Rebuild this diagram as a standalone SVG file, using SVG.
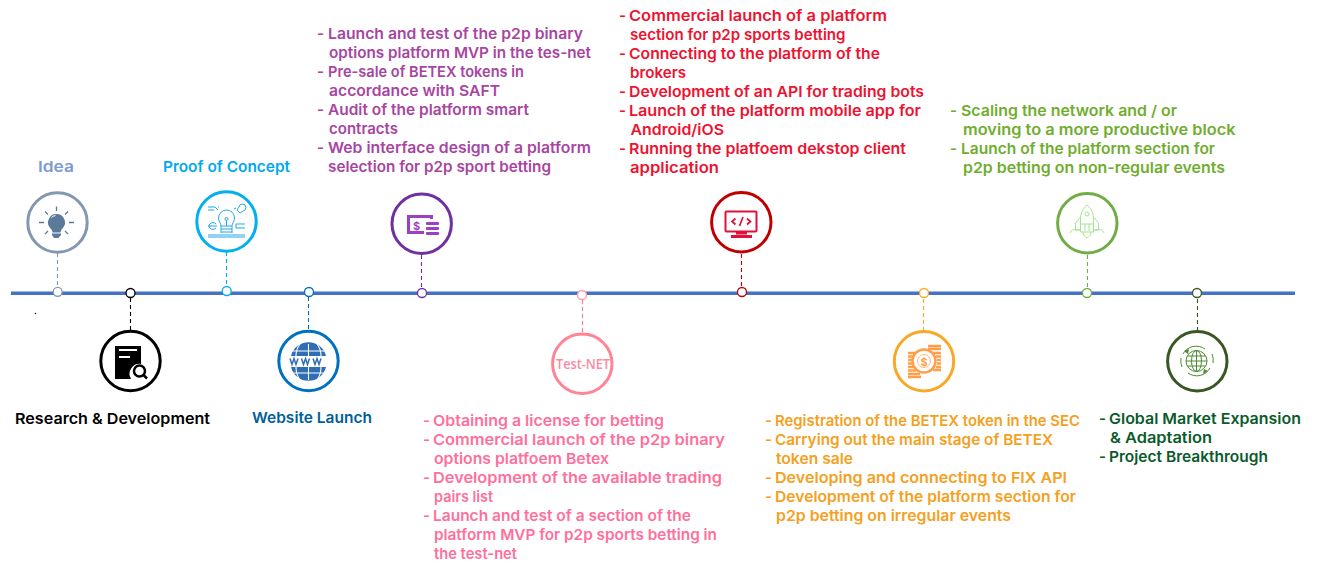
<svg xmlns="http://www.w3.org/2000/svg" width="1317" height="569" viewBox="0 0 1317 569">
<style>
text{font-family:"Inter","Liberation Sans",sans-serif;font-weight:600;font-size:15px}
.ring{fill:#fff;stroke-width:3}
.dot{fill:#fff;stroke-width:1.3}
.dash{fill:none;stroke-width:1.1;stroke-dasharray:4 3}
.thin{fill:none;stroke-width:1}
</style>
<rect width="1317" height="569" fill="#fff"/>
<g id="connectors">
<line x1="11" y1="293.3" x2="1295" y2="293.3" stroke="#4472C4" stroke-width="3.4"/>
<line class="dash" x1="57.5" y1="253" x2="57.5" y2="287" stroke="#8497B0"/>
<line class="dash" x1="130.5" y1="298" x2="130.5" y2="330" stroke="#000"/>
<line class="dash" x1="226.5" y1="252" x2="226.5" y2="286" stroke="#00B0F0"/>
<line class="dash" x1="308.5" y1="297" x2="308.5" y2="330" stroke="#0070C0"/>
<line class="dash" x1="421.5" y1="255" x2="421.5" y2="288" stroke="#7030A0"/>
<line class="dash" x1="582.5" y1="300" x2="582.5" y2="332" stroke="#FF7C92"/>
<line class="dash" x1="741.5" y1="254" x2="741.5" y2="287" stroke="#C00000"/>
<line class="dash" x1="923.5" y1="299" x2="923.5" y2="330" stroke="#F9A825"/>
<line class="dash" x1="1087.5" y1="255" x2="1087.5" y2="288" stroke="#70AD47"/>
<line class="dash" x1="1197.5" y1="299" x2="1197.5" y2="330" stroke="#385723"/>
</g>
<circle cx="35.5" cy="313.5" r="0.8" fill="#000"/>

<g id="idea">
<circle class="dot" cx="57.7" cy="291.8" r="4.5" stroke="#8497B0"/>
<circle class="ring" cx="57.5" cy="222.5" r="29.7" stroke="#8497B0"/>
<path d="M56.500 214a8.500 8.500 0 0 1 6 14.500c-1.500 1.500-2 3-2 4h-8c0-1-.5-2.500-2-4a8.500 8.500 0 0 1 6-14.500z" fill="#5B7A99"/>
<path d="M51.500 217.500a5 5 0 0 1 4-1.800" stroke="#fff" stroke-width="1" fill="none"/>
<path d="M52 233.500h9v1.500l-1.500 1.500-1 1.500h-4.500l-1-1.500-1-1.500z" fill="#5B7A99"/>
<path d="M39 222.500h5M69 222.500h5M56.500 206.500v4.500M45 211.500l3 3M68 211.500l-3 3M45 234l3-3M68 234l-3-3" stroke="#5B7A99" stroke-width="1.300" fill="none"/>
<text x="38" y="172" fill="#7C9BCF" textLength="36" lengthAdjust="spacingAndGlyphs">Idea</text>
</g>

<g id="research">
<circle class="dot" cx="130.500" cy="293" r="4.500" stroke="#000"/>
<circle class="ring" cx="130.500" cy="361" r="29.700" stroke="#000"/>
<path d="M115 346h26v18a10 10 0 0 0-10 15h-16z" fill="#000"/>
<path d="M119 350h18M119 357h11" stroke="#fff" stroke-width="2" fill="none"/>
<circle cx="139.500" cy="371" r="5.500" fill="#fff" stroke="#000" stroke-width="2.500"/>
<path d="M143.500 375l3.500 3.500" stroke="#000" stroke-width="2.500"/>
<text x="15" y="424" fill="#000" textLength="195" lengthAdjust="spacingAndGlyphs">Research &amp; Development</text>
</g>

<g id="proof-of-concept">
<circle class="dot" cx="226.700" cy="291" r="4.500" stroke="#00B0F0"/>
<circle class="ring" cx="226.500" cy="221.500" r="29.700" stroke="#00B0F0"/>
<g class="thin" stroke="#22A7E8">
<path d="M221 226c0-3-2.500-4-2.500-8a8 8 0 0 1 16 0c0 4-2.500 5-2.500 8z"/>
<circle cx="226.500" cy="219" r="1.500"/>
<path d="M226.500 221v5M221 226v7M232 226v7M221 229h11M221 232h11M208 235h37M208 237h37"/>
<path d="M208 207h7l3 3M208 210h6M218 207h1M239 207a3.500 3.500 0 1 1 4 4l-3 2-3-3zM236 208l-2 1"/>
<path d="M209 226a4 4 0 0 1 7-2M209 226a4 4 0 0 0 7 2M208 226h9M236 224h9M236 228h9M236 224v4"/>
</g>
<text x="163" y="172" fill="#00A9EE" textLength="127" lengthAdjust="spacingAndGlyphs">Proof of Concept</text>
</g>

<g id="website-launch">
<circle class="dot" cx="309" cy="292" r="4.500" stroke="#0070C0"/>
<circle class="ring" cx="308.500" cy="361" r="29.700" stroke="#0070C0"/>
<path d="M291 356a18 18 0 0 1 35 0zM291 367a18 18 0 0 0 35 0z" fill="#2F6DB5"/>
<path d="M308.500 344v36M300 344c-3 4-4 8-4 12M317 344c3 4 4 8 4 12M300 380c-3-4-4-8-4-13M317 380c3-4 4-8 4-13M293 351h31M293 373h31" stroke="#fff" stroke-width="1.100" fill="none"/>
<path d="M290 358.500l2 6 2-6 2 6 2-6M301.500 358.500l2 6 2-6 2 6 2-6M313 358.500l2 6 2-6 2 6 2-6" stroke="#2F6DB5" stroke-width="1.500" fill="none"/>
<text x="252" y="423" fill="#006099" textLength="120" lengthAdjust="spacingAndGlyphs">Website Launch</text>
</g>

<g id="mvp" fill="#A8459F">
<circle class="dot" cx="422" cy="293" r="4.500" stroke="#7030A0"/>
<circle class="ring" cx="421.700" cy="223.700" r="29.700" stroke="#7030A0"/>
<path d="M407 215h26v4h-3v-1h-20v13h14v3h-17z" fill="#9B3FC4"/>
<rect x="426" y="222" width="13" height="3" rx="1" fill="#9B3FC4"/>
<rect x="426" y="227" width="13" height="3" rx="1" fill="#9B3FC4"/>
<rect x="426" y="232" width="13" height="3" rx="1" fill="#9B3FC4"/>
<text x="413" y="230" style="font-size:11px;font-weight:700" fill="#9B3FC4">$</text>
<text y="39"><tspan x="317">-</tspan><tspan x="328" textLength="255" lengthAdjust="spacingAndGlyphs">Launch and test of the p2p binary</tspan></text>
<text x="329" y="58" textLength="262" lengthAdjust="spacingAndGlyphs">options platform MVP in the tes-net</text>
<text y="77"><tspan x="317">-</tspan><tspan x="328" textLength="196" lengthAdjust="spacingAndGlyphs">Pre-sale of BETEX tokens in</tspan></text>
<text x="329" y="96" textLength="171" lengthAdjust="spacingAndGlyphs">accordance with SAFT</text>
<text y="115"><tspan x="317">-</tspan><tspan x="328" textLength="201" lengthAdjust="spacingAndGlyphs">Audit of the platform smart</tspan></text>
<text x="329" y="134" textLength="69" lengthAdjust="spacingAndGlyphs">contracts</text>
<text y="153"><tspan x="317">-</tspan><tspan x="328" textLength="263" lengthAdjust="spacingAndGlyphs">Web interface design of a platform</tspan></text>
<text x="328" y="172" textLength="223" lengthAdjust="spacingAndGlyphs">selection for p2p sport betting</text>
</g>

<g id="test-net" fill="#FF6F9C">
<circle class="dot" cx="582" cy="295" r="4.500" stroke="#FF9AAA"/>
<circle class="ring" cx="582.300" cy="363.700" r="29.700" stroke="#FF8496"/>
<text x="556" y="369" fill="#F88BA0" textLength="54" lengthAdjust="spacingAndGlyphs" style="font-family:'Open Sans',sans-serif;font-size:14px">Test-NET</text>
<text y="426"><tspan x="423">-</tspan><tspan x="433" textLength="231" lengthAdjust="spacingAndGlyphs">Obtaining a license for betting</tspan></text>
<text y="445"><tspan x="423">-</tspan><tspan x="433" textLength="292" lengthAdjust="spacingAndGlyphs">Commercial launch of the p2p binary</tspan></text>
<text x="434" y="464" textLength="175" lengthAdjust="spacingAndGlyphs">options platfoem Betex</text>
<text y="483"><tspan x="423">-</tspan><tspan x="433" textLength="289" lengthAdjust="spacingAndGlyphs">Development of the available trading</tspan></text>
<text x="434" y="502" textLength="59" lengthAdjust="spacingAndGlyphs">pairs list</text>
<text y="521"><tspan x="423">-</tspan><tspan x="433" textLength="258" lengthAdjust="spacingAndGlyphs">Launch and test of a section of the</tspan></text>
<text x="434" y="540" textLength="283" lengthAdjust="spacingAndGlyphs">platform MVP for p2p sports betting in</text>
<text x="434" y="559" textLength="83" lengthAdjust="spacingAndGlyphs">the test-net</text>
</g>

<g id="commercial-launch" fill="#EE1230">
<circle class="dot" cx="742" cy="292" r="4.500" stroke="#C00000"/>
<circle class="ring" cx="741.300" cy="222.300" r="29.700" stroke="#C00000"/>
<rect x="725.500" y="211.500" width="31" height="20" rx="1" fill="none" stroke="#E0103A" stroke-width="2"/>
<path d="M736 231.500h11v3h-11zM731 235h21v3h-21z" fill="#E0103A"/>
<path d="M735.500 218.500l-3.500 3 3.500 3M747 218.500l3.500 3-3.500 3M743 217l-3.500 9" stroke="#E0103A" stroke-width="1.700" fill="none"/>
<text y="21"><tspan x="619">-</tspan><tspan x="629" textLength="258" lengthAdjust="spacingAndGlyphs">Commercial launch of a platform</tspan></text>
<text x="630" y="40" textLength="215.500" lengthAdjust="spacingAndGlyphs">section for p2p sports betting</text>
<text y="59"><tspan x="619">-</tspan><tspan x="629" textLength="251" lengthAdjust="spacingAndGlyphs">Connecting to the platform of the</tspan></text>
<text x="630" y="78" textLength="56" lengthAdjust="spacingAndGlyphs">brokers</text>
<text y="97"><tspan x="619">-</tspan><tspan x="629" textLength="295" lengthAdjust="spacingAndGlyphs">Development of an API for trading bots</tspan></text>
<text y="116"><tspan x="619">-</tspan><tspan x="629" textLength="292" lengthAdjust="spacingAndGlyphs">Launch of the platform mobile app for</tspan></text>
<text x="630.500" y="135" textLength="93.500" lengthAdjust="spacingAndGlyphs">Android/iOS</text>
<text y="154"><tspan x="619">-</tspan><tspan x="629" textLength="277" lengthAdjust="spacingAndGlyphs">Running the platfoem dekstop client</tspan></text>
<text x="630" y="173" textLength="89" lengthAdjust="spacingAndGlyphs">application</text>
</g>

<g id="token-sale" fill="#F5A020">
<circle class="dot" cx="924" cy="293" r="4.500" stroke="#F9A825"/>
<circle class="ring" cx="924" cy="361.300" r="29.700" stroke="#F9A825"/>
<path d="M908 353h8M908 356.500h6M908 360h5M908 363.500h5M908 367h6M908 370.500h8M908 374h12M908 377h13M928 346h13M928 349h13M932 353h9M936 356.500h5M937 360h4M937 363.500h4M936 367h5M933 370h8" stroke="#FF9F4A" stroke-width="2.300" fill="none"/>
<circle cx="924" cy="361" r="11.500" fill="none" stroke="#FF9F4A" stroke-width="2.500"/>
<circle cx="924" cy="361" r="6.500" fill="none" stroke="#FFB77A" stroke-width="1"/>
<text x="924" y="365.500" text-anchor="middle" style="font-size:11px;font-weight:700" fill="#FF9F4A">$</text>
<text y="426"><tspan x="765">-</tspan><tspan x="775" textLength="305" lengthAdjust="spacingAndGlyphs">Registration of the BETEX token in the SEC</tspan></text>
<text y="445"><tspan x="765">-</tspan><tspan x="775" textLength="278" lengthAdjust="spacingAndGlyphs">Carrying out the main stage of BETEX</tspan></text>
<text x="776" y="464" textLength="77" lengthAdjust="spacingAndGlyphs">token sale</text>
<text y="483"><tspan x="765">-</tspan><tspan x="775" textLength="292" lengthAdjust="spacingAndGlyphs">Developing and connecting to FIX API</tspan></text>
<text y="502"><tspan x="765">-</tspan><tspan x="775" textLength="301" lengthAdjust="spacingAndGlyphs">Development of the platform section for</tspan></text>
<text x="776" y="521" textLength="235" lengthAdjust="spacingAndGlyphs">p2p betting on irregular events</text>
</g>

<g id="scaling" fill="#70AD2F">
<circle class="dot" cx="1087" cy="293" r="4.500" stroke="#70AD47"/>
<circle class="ring" cx="1087.300" cy="223.300" r="29.700" stroke="#70AD47"/>
<g class="thin" stroke="#A6E38F">
<path d="M1087 205c-5 4-6.500 9-6.500 15v12h13v-12c0-6-1.500-11-6.500-15z"/>
<circle cx="1087" cy="214" r="2"/>
<path d="M1080.500 217l-5 6v7h5M1093.500 217l5 6v7h-5M1081 224h12M1085 224v7M1089 224v7M1083 232c0 3 2 5 4 6 2-1 4-3 4-6"/>
<path d="M1070 233c1-3 4-4 6-3 2-1 4 0 5 2M1104 233c-1-3-4-4-6-3-2-1-4 0-5 2"/>
</g>
<text y="116"><tspan x="950">-</tspan><tspan x="961" textLength="216" lengthAdjust="spacingAndGlyphs">Scaling the network and / or</tspan></text>
<text x="963" y="135" textLength="272.500" lengthAdjust="spacingAndGlyphs">moving to a more productive block</text>
<text y="154"><tspan x="950">-</tspan><tspan x="961" textLength="254" lengthAdjust="spacingAndGlyphs">Launch of the platform section for</tspan></text>
<text x="963" y="173" textLength="262" lengthAdjust="spacingAndGlyphs">p2p betting on non-regular events</text>
</g>

<g id="global-expansion" fill="#0B5A2C">
<circle class="dot" cx="1197" cy="293" r="4.500" stroke="#385723"/>
<circle class="ring" cx="1197.300" cy="361.300" r="29.700" stroke="#385723"/>
<g class="thin" stroke="#4E8A32" stroke-width="1.200">
<circle cx="1196.500" cy="361" r="10.500"/>
<ellipse cx="1196.500" cy="361" rx="5" ry="10.500"/>
<path d="M1196.500 350.500v21M1186 361h21M1187.500 356h18M1187.500 366h18"/>
<path d="M1183 354a15 15 0 0 1 22-5M1210 368a15 15 0 0 1-22 5M1181 358a16 16 0 0 0 1 9M1212 354a16 16 0 0 1 1 9"/>
</g>
<path d="M1184 351l5-2-1 5zM1208 371l-5 3 1-5z" fill="#4E8A32"/>
<text y="424"><tspan x="1099">-</tspan><tspan x="1109" textLength="192" lengthAdjust="spacingAndGlyphs">Global Market Expansion</tspan></text>
<text x="1110" y="443" textLength="102" lengthAdjust="spacingAndGlyphs">&amp; Adaptation</text>
<text y="462"><tspan x="1099">-</tspan><tspan x="1109" textLength="159" lengthAdjust="spacingAndGlyphs">Project Breakthrough</tspan></text>
</g>
</svg>
